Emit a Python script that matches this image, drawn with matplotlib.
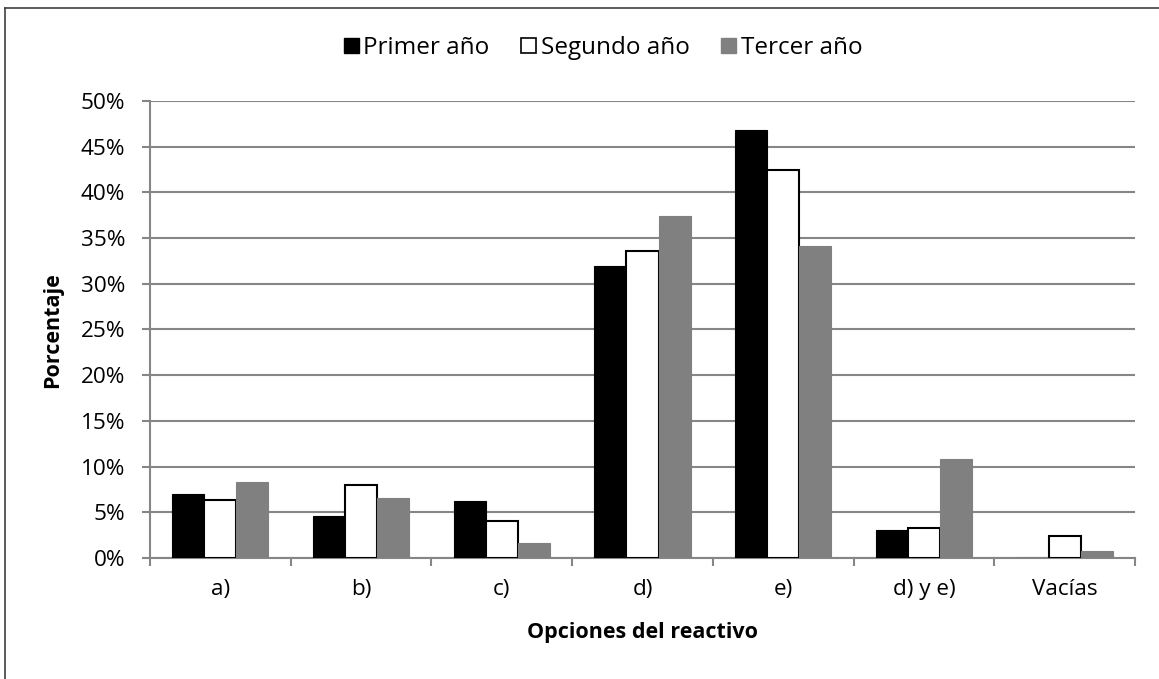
import matplotlib
matplotlib.use("Agg")
import matplotlib.pyplot as plt
import numpy as np
from matplotlib.ticker import PercentFormatter
from matplotlib.lines import Line2D

categories = ["a)", "b)", "c)", "d)", "e)", "d) y e)", "Vacías"]
series_names = ["Primer año", "Segundo año", "Tercer año"]
primer = [7.0, 4.6, 6.2, 31.9, 46.8, 3.1, 0.0]
segundo = [6.4, 8.0, 4.0, 33.6, 42.4, 3.25, 2.4]
tercer = [8.3, 6.6, 1.6, 37.4, 34.1, 10.8, 0.8]
yticks = [0, 5, 10, 15, 20, 25, 30, 35, 40, 45, 50]

plt.rcParams['font.family'] = ['Open Sans', 'DejaVu Sans']
FS = 16.2
FSL = 15.5
FSLEG = 17.5
W, H = 1159, 679
fig = plt.figure(figsize=(W / 100, H / 100), dpi=100)
ax = fig.add_axes([150 / W, 1 - 558 / H, (1135 - 150) / W, (558 - 101) / H])

grid_c = "#868686"
x = np.arange(len(categories))
bw = 0.228
ax.bar(x - bw, primer, bw, color="black", edgecolor="black", linewidth=0.8, zorder=3, label=series_names[0])
ax.bar(x, segundo, bw, color="white", edgecolor="black", linewidth=1.5, zorder=3, label=series_names[1])
ax.bar(x + bw, tercer, bw, color="#808080", edgecolor="#808080", linewidth=0.8, zorder=3, label=series_names[2])

ax.set_xlim(-0.5, len(categories) - 0.5)
ax.set_ylim(0, 50)
ax.set_yticks(yticks)
ax.yaxis.set_major_formatter(PercentFormatter(decimals=0))
ax.yaxis.grid(True, color=grid_c, linewidth=1.5, zorder=0)
ax.set_axisbelow(True)

ax.set_xticks(x)
ax.set_xticklabels(categories)
ax.set_xticks(np.arange(-0.5, len(categories), 1.0), minor=True)
ax.tick_params(axis="x", which="major", length=0, pad=15, labelsize=FS, colors="black")
ax.tick_params(axis="x", which="minor", length=6, width=1.5, color=grid_c)
ax.tick_params(axis="y", length=6, width=1.5, color=grid_c, labelsize=FS, pad=12, labelcolor="black")

for s in ["top", "right"]:
    ax.spines[s].set_visible(False)
for s in ["left", "bottom"]:
    ax.spines[s].set_color(grid_c)
    ax.spines[s].set_linewidth(1.5)

fig.text(642.5 / W, 1 - 638 / H, "Opciones del reactivo", fontsize=FSL, fontweight="bold",
         ha="center", va="baseline")
fig.text(53 / W, 1 - 330 / H, "Porcentaje", fontsize=FSL, fontweight="bold",
         ha="center", va="center", rotation=90)

handles = [
    Line2D([], [], marker="s", linestyle="none", markersize=10.8, markerfacecolor="black", markeredgecolor="black"),
    Line2D([], [], marker="s", linestyle="none", markersize=10.8, markerfacecolor="white", markeredgecolor="black", markeredgewidth=1.2),
    Line2D([], [], marker="s", linestyle="none", markersize=10.8, markerfacecolor="#808080", markeredgecolor="#808080"),
]
fig.legend(handles, series_names, loc="center", bbox_to_anchor=(603 / W, 1 - 48 / H), ncol=3,
           frameon=False, fontsize=FSLEG, handletextpad=0.2, columnspacing=1.3, handlelength=0.6)

# outer chart border (left and top visible)
fig.add_artist(Line2D([5 / W, 5 / W], [0, 1 - 8 / H], transform=fig.transFigure, color="#404040", linewidth=1.2))
fig.add_artist(Line2D([5 / W, 1], [1 - 8 / H, 1 - 8 / H], transform=fig.transFigure, color="#404040", linewidth=1.2))

fig.savefig("out.png", dpi=100)
